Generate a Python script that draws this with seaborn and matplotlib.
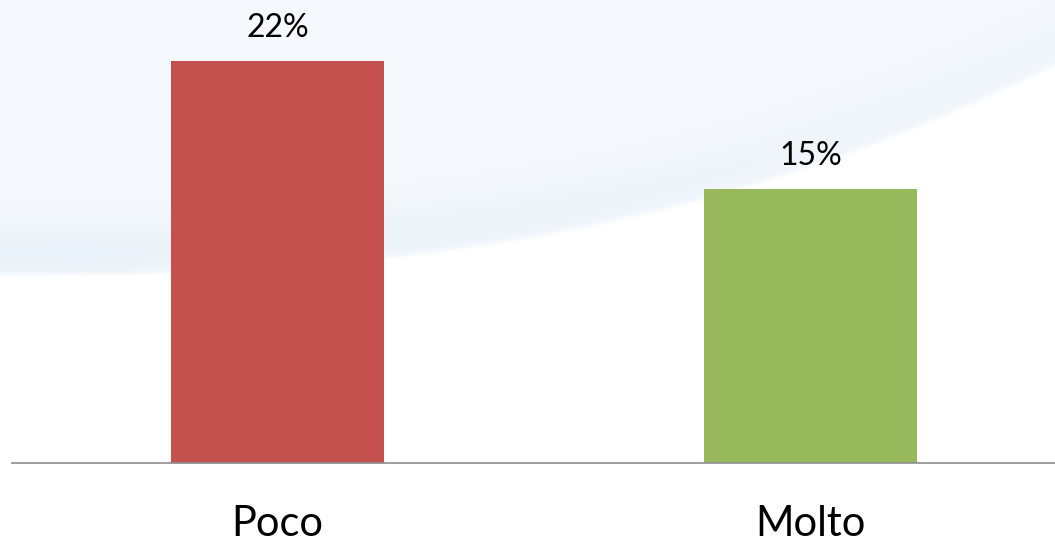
import numpy as np
import pandas as pd
import matplotlib
matplotlib.use("Agg")
import matplotlib.pyplot as plt
import seaborn as sns

# Data
categories = ["Poco", "Molto"]
values = [0.22, 0.15]
bar_colors = ["#C5514E", "#98B95B"]

sns.set_theme(style="white")
plt.rcParams['font.family'] = ['Lato', 'DejaVu Sans']

W, H = 1055, 542
fig = plt.figure(figsize=(W / 100, H / 100), dpi=100)

# Decorative light-blue swoosh background
bg = fig.add_axes([0, 0, 1, 1], zorder=-10)
xx, yy = np.meshgrid(np.arange(W), np.arange(H))
curve = 277 - 210 * (xx / W) ** 2.5
d = curve - yy  # positive above curve
white = np.array([1.0, 1.0, 1.0])
light = np.array([0.962, 0.976, 0.990])
band = np.array([0.918, 0.952, 0.978])
t_band = np.exp(-((d - 25) / 30.0) ** 2) * (1 - xx / W * 0.6)
t_band = np.clip(t_band, 0, 1)
col = light[None, None, :] * (1 - t_band[..., None]) + band[None, None, :] * t_band[..., None]
edge = np.clip(d / 6.0, 0, 1)[..., None]
img = white * (1 - edge) + col * edge
bg.imshow(img, aspect="auto", extent=[0, W, H, 0], interpolation="bilinear")
bg.set_axis_off()

ax = fig.add_axes([12 / W, 79 / H, (W - 12) / W, (H - 79) / H])
ax.set_facecolor("none")
df = pd.DataFrame({"cat": categories, "val": values})
sns.barplot(data=df, x="cat", y="val", hue="cat", palette=bar_colors,
            width=0.4, legend=False, ax=ax, saturation=1, linewidth=0)

for c in ax.containers:
    ax.bar_label(c, labels=[f"{v*100:.0f}%" for v in c.datavalues],
                 padding=13, fontsize=23, color="black")

ax.set_xlim(-0.498, 1.459)
ax.set_ylim(0, 0.2534)
ax.set_xlabel("")
ax.set_ylabel("")
ax.set_yticks([])
for s in ["top", "right", "left"]:
    ax.spines[s].set_visible(False)
ax.spines["bottom"].set_color("#8C8C8C")
ax.spines["bottom"].set_linewidth(1.2)
ax.tick_params(axis="x", length=0, pad=30, labelsize=30, labelcolor="black")

fig.savefig("out.png", dpi=100)
